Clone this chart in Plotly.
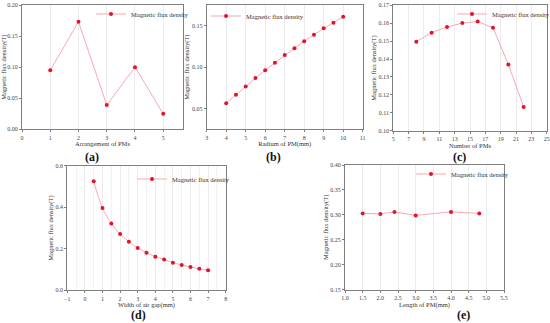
import plotly.graph_objects as go

# ---- data ----
a_x = [1, 2, 3, 4, 5]
a_y = [0.095, 0.173, 0.039, 0.100, 0.025]

b_x = [4, 4.5, 5, 5.5, 6, 6.5, 7, 7.5, 8, 8.5, 9, 9.5, 10]
b_y = [0.0565, 0.0668, 0.0768, 0.0868, 0.0964, 0.1052, 0.1148, 0.1228, 0.1312, 0.1392, 0.1468, 0.1536, 0.1608]

c_x = [8, 10, 12, 14, 16, 18, 20, 22]
c_y = [0.1497, 0.1547, 0.1579, 0.1601, 0.1609, 0.1575, 0.1369, 0.1132]

d_x = [0.5, 1.0, 1.5, 2.0, 2.5, 3.0, 3.5, 4.0, 4.5, 5.0, 5.5, 6.0, 6.5, 7.0]
d_y = [0.525, 0.396, 0.322, 0.271, 0.234, 0.204, 0.181, 0.162, 0.148, 0.133, 0.122, 0.112, 0.104, 0.096]

e_x = [1.5, 2.0, 2.4, 3.0, 4.0, 4.8]
e_y = [0.303, 0.302, 0.306, 0.299, 0.306, 0.303]

x_titles = ["Arrangement of PMs", "Radium of PM(mm)", "Number of PMs",
            "Width of air gap(mm)", "Length of PM(mm)"]
y_title = "Magnetic flux density(T)"
series_name = "Magnetic flux density"
panel_labels = ["(a)", "(b)", "(c)", "(d)", "(e)"]

# ---- layout ----
W, H = 550, 323
FONT = "Liberation Serif"
MARK = "#e3122d"
LINE = "#f6a9b1"
AX = "#7f7f7f"
GRID = "#ececec"

def px(x0, x1):
    return [x0 / W, x1 / W]

def py(top, bottom):
    return [1 - bottom / H, 1 - top / H]

panels = [
    dict(x=a_x, y=a_y, dom_x=px(22, 183), dom_y=py(5, 129.3), xr=[0, 5.7], xd=1, yr=[0, 0.2], yd=0.05, yt0=0,
         yfmt=".2f", xfmt="", shape="linear", leg=(123, 14), lab=(92, 157)),
    dict(x=b_x, y=b_y, dom_x=px(206.7, 362.7), dom_y=py(5, 129.3), xr=[3, 11], xd=1, yr=[0.025, 0.175], yd=0.05, yt0=0.05,
         yfmt=".2f", xfmt="", shape="linear", leg=(238, 16), lab=(273, 157)),
    dict(x=c_x, y=c_y, dom_x=px(393.3, 546.7), dom_y=py(5.3, 130.7), xr=[5, 25], xd=2, yr=[0.10, 0.17], yd=0.01, yt0=0.10,
         yfmt=".2f", xfmt="", shape="linear", leg=(484, 14), lab=(460, 157)),
    dict(x=d_x, y=d_y, dom_x=px(67.3, 225.7), dom_y=py(165.7, 290.3), xr=[-1, 8], xd=1, yr=[0, 0.6], yd=0.2, yt0=0,
         yfmt=".1f", xfmt="", shape="spline", leg=(164, 179), lab=(138, 315)),
    dict(x=e_x, y=e_y, dom_x=px(345, 504), dom_y=py(165, 289.7), xr=[1.0, 5.5], xd=0.5, yr=[0.15, 0.40], yd=0.05, yt0=0.15,
         yfmt=".2f", xfmt=".1f", shape="linear", leg=(443, 174), lab=(463, 315)),
]

fig = go.Figure()
layout = dict(width=W, height=H, margin=dict(l=0, r=0, t=0, b=0, autoexpand=False),
              paper_bgcolor="white", plot_bgcolor="white",
              font=dict(family=FONT, size=7, color="#333"), annotations=[])

for i, p in enumerate(panels):
    n = "" if i == 0 else str(i + 1)
    legname = "legend" + n
    fig.add_trace(go.Scatter(
        x=p["x"], y=p["y"], mode="lines+markers", name=series_name,
        line=dict(color=LINE, width=1, shape=p["shape"], smoothing=1.0),
        marker=dict(color=MARK, size=4),
        xaxis="x" + n, yaxis="y" + n, legend=legname, showlegend=True))
    layout["xaxis" + n] = dict(
        domain=p["dom_x"], range=p["xr"], anchor="y" + n, dtick=p["xd"], tick0=p["xr"][0],
        tickformat=p["xfmt"], showgrid=True, gridcolor=GRID, gridwidth=0.8, automargin=False,
        showline=True, linecolor=AX, linewidth=1, mirror=True, zeroline=False,
        ticks="outside", ticklen=2, tickcolor=AX, tickfont=dict(size=6, color="#444"),
        title=dict(text=x_titles[i], font=dict(size=6.5, color="#333"), standoff=0))
    layout["yaxis" + n] = dict(
        domain=p["dom_y"], range=p["yr"], anchor="x" + n, dtick=p["yd"], tick0=p["yt0"],
        tickformat=p["yfmt"], showgrid=False, automargin=False,
        showline=True, linecolor=AX, linewidth=1, mirror=True, zeroline=False,
        ticks="outside", ticklen=2, tickcolor=AX, tickfont=dict(size=6, color="#444"),
        title=dict(text=y_title, font=dict(size=6.5, color="#333"), standoff=1))
    if i == 3:
        layout["xaxis" + n]["minor"] = dict(dtick=0.5, showgrid=True, gridcolor="#f2f2f2", gridwidth=0.8)
    tx, ty = p["leg"]
    layout[legname] = dict(x=(tx - 32) / W, y=1 - ty / H, xanchor="left", yanchor="middle",
                           bgcolor="rgba(0,0,0,0)", font=dict(size=6.5, color="#333", family=FONT),
                           itemwidth=30, tracegroupgap=0)
    lx, ly = p["lab"]
    layout["annotations"].append(dict(
        text="<b>" + panel_labels[i] + "</b>", x=lx / W, y=1 - ly / H, xref="paper", yref="paper",
        showarrow=False, xanchor="center", yanchor="middle",
        font=dict(size=12, family=FONT, color="#111")))

fig.update_layout(**layout)
fig.write_html("out.html", config={"displayModeBar": False},
               post_script="document.body.style.margin='0';document.body.style.padding='0';")
